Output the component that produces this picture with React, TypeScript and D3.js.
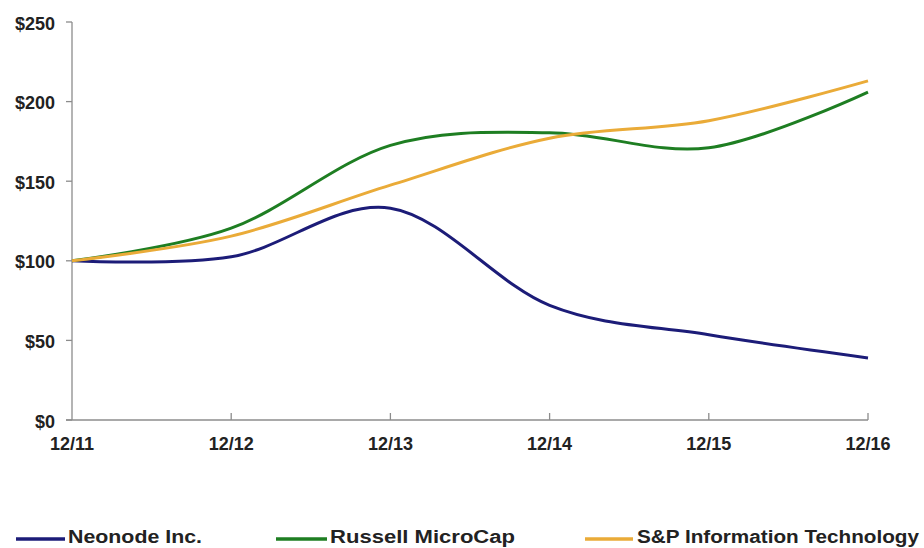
import React from "react";
import * as d3 from "d3";

const categories = ["12/11", "12/12", "12/13", "12/14", "12/15", "12/16"];
const neonode = [100, 102.5, 133, 72, 53.5, 39];
const russell = [100, 120.5, 172.5, 180.5, 171, 206];
const spit = [100, 115.5, 147.5, 177, 188, 213];
const yTicks = [0, 50, 100, 150, 200, 250];

const seriesNames = ["Neonode Inc.", "Russell MicroCap", "S&P Information Technology"];
const seriesColors = ["#1c1c78", "#1e7e22", "#eaab38"];
const seriesData = [neonode, russell, spit];

const W = 924;
const H = 548;
const left = 72;
const right = 868;
const top = 22;
const bottom = 420;

export default function App() {
  const x = d3.scalePoint<string>().domain(categories).range([left, right]);
  const y = d3.scaleLinear().domain([0, 250]).range([bottom, top]);
  const line = d3
    .line<number>()
    .x((_, i) => x(categories[i]) as number)
    .y((d) => y(d))
    .curve(d3.curveCardinal.tension(0));

  const legendPos = [
    { lx1: 16, lx2: 65, tx: 68, tw: 134 },
    { lx1: 276, lx2: 327, tx: 330, tw: 185 },
    { lx1: 585, lx2: 633, tx: 637, tw: 282 },
  ];

  const axisColor = "#8c8c8c";

  return (
    <svg
      width={W}
      height={H}
      style={{ position: "absolute", left: 0, top: 0, background: "#fff" }}
      fontFamily="'Liberation Sans', Arial, sans-serif"
    >
      <rect x={0} y={0} width={W} height={H} fill="#fff" />
      <line x1={left} x2={left} y1={top} y2={bottom} stroke={axisColor} strokeWidth={1.3} />
      {yTicks.map((t) => (
        <g key={t}>
          <line x1={left - 6} x2={left} y1={y(t)} y2={y(t)} stroke={axisColor} strokeWidth={1.3} />
          <text x={55} y={y(t) + 7.5} textAnchor="end" fontSize={18} fontWeight="bold" fill="#222">
            {"$" + t}
          </text>
        </g>
      ))}
      <line x1={left - 6} x2={right} y1={bottom} y2={bottom} stroke={axisColor} strokeWidth={1.3} />
      {categories.map((c, i) => (
        <g key={c}>
          {i > 0 && (
            <line x1={x(c)} x2={x(c)} y1={bottom} y2={bottom - 7} stroke={axisColor} strokeWidth={1.3} />
          )}
          <text x={x(c)} y={450} textAnchor="middle" fontSize={18} fontWeight="bold" fill="#222">
            {c}
          </text>
        </g>
      ))}
      {seriesData.map((d, i) => (
        <path
          key={seriesNames[i]}
          d={line(d) || ""}
          fill="none"
          stroke={seriesColors[i]}
          strokeWidth={3}
          strokeLinejoin="round"
        />
      ))}
      {seriesNames.map((n, i) => (
        <g key={n}>
          <line
            x1={legendPos[i].lx1}
            x2={legendPos[i].lx2}
            y1={539}
            y2={539}
            stroke={seriesColors[i]}
            strokeWidth={3.5}
          />
          <text
            x={legendPos[i].tx}
            y={543}
            fontSize={18}
            fontWeight="bold"
            fill="#222"
            fontFamily="'Liberation Sans Narrow', 'Arial Narrow', 'Liberation Sans', Arial, sans-serif"
            textLength={legendPos[i].tw}
            lengthAdjust="spacingAndGlyphs"
          >
            {n}
          </text>
        </g>
      ))}
    </svg>
  );
}
